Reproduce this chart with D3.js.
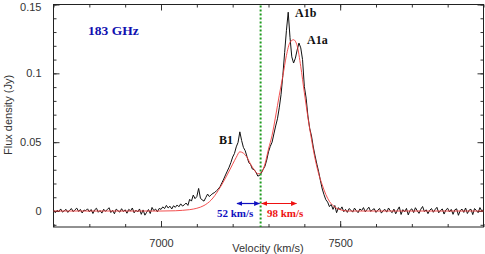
<!DOCTYPE html>
<html>
<head>
<meta charset="utf-8">
<script src="https://cdn.jsdelivr.net/npm/d3@7"></script>
<style>
  body { margin: 0; background: #fff; }
  svg { display: block; }
  .tick text { font-family: "Liberation Sans", Arial, sans-serif; font-size: 11px; fill: #333; }
  .ann { font-family: "Liberation Serif", "Times New Roman", serif; font-weight: bold; }
</style>
</head>
<body>
<svg id="myCanvas" width="485" height="254"></svg>
<script>
/*** 183 GHz spectrum ***/

// velocity grid of the observed spectrum (km/s), 5 km/s channels
let velStart = 6700;
let velStep = 5;

// observed flux density (Jy), one value per channel from 6700 to 7900
let fluxObs = [
  0.0008, -0.0012, 0.0005, -0.0004, 0.0015, -0.0008, 0.0002, 0.0012, -0.0010, 0.0006,
  0.0018, -0.0005, 0.0009, 0.0021, -0.0003, 0.0012, -0.0014, 0.0007, 0.0003, 0.0016,
  -0.0006, 0.0011, -0.0018, 0.0009, 0.0020, -0.0009, 0.0004, -0.0015, 0.0013, -0.0002,
  0.0010, 0.0024, -0.0011, 0.0005, -0.0020, 0.0014, 0.0002, -0.0008, 0.0017, -0.0004,
  0.0009, -0.0016, 0.0012, 0.0001, 0.0022, -0.0013, 0.0006, -0.0007, 0.0015, -0.0024,
  0.0008, -0.0030, -0.0009, 0.0011, -0.0018, 0.0026, 0.0003, 0.0014, -0.0006, 0.0019,
  0.0012, 0.0030, 0.0018, 0.0041, 0.0022, 0.0035, 0.0015, 0.0038, 0.0027, 0.0044,
  0.0031, 0.0052, 0.0036, 0.0045, 0.0058, 0.0041, 0.0085, 0.0072, 0.0116, 0.0090,
  0.0105, 0.0164, 0.0094, 0.0080, 0.0072, 0.0098, 0.0123, 0.0105, 0.0118, 0.0128,
  0.0135, 0.0148, 0.0160, 0.0178, 0.0205, 0.0232, 0.0262, 0.0290, 0.0318, 0.0352,
  0.0392, 0.0418, 0.0466, 0.0498, 0.0575, 0.0512, 0.0462, 0.0438, 0.0395, 0.0352,
  0.0338, 0.0305, 0.0300, 0.0282, 0.0254, 0.0258, 0.0276, 0.0302, 0.0325, 0.0370,
  0.0430, 0.0470, 0.0500, 0.0560, 0.0618, 0.0670, 0.0750, 0.0845, 0.0985, 0.1150,
  0.1310, 0.1444, 0.1260, 0.1120, 0.1075, 0.1110, 0.1170, 0.1220, 0.1185, 0.1100,
  0.0905, 0.0820, 0.0690, 0.0600, 0.0545, 0.0465, 0.0400, 0.0340, 0.0285, 0.0220,
  0.0160, 0.0118, 0.0082, 0.0065, 0.0032, 0.0048, 0.0012, 0.0040, -0.0012, 0.0025,
  0.0008, 0.0030, -0.0005, 0.0012, -0.0010, 0.0018, 0.0006, -0.0008, 0.0021, 0.0003,
  -0.0012, 0.0015, 0.0004, 0.0025, -0.0006, 0.0011, 0.0028, -0.0003, 0.0009, 0.0017,
  -0.0010, 0.0006, 0.0019, -0.0015, 0.0003, 0.0012, -0.0008, 0.0022, 0.0001, -0.0012,
  0.0014, -0.0020, 0.0008, 0.0030, -0.0025, 0.0010, -0.0006, 0.0019, -0.0028, 0.0005,
  0.0016, -0.0011, 0.0024, 0.0002, -0.0017, 0.0013, 0.0033, -0.0004, 0.0009, -0.0019,
  0.0006, 0.0018, -0.0009, 0.0011, 0.0027, -0.0013, 0.0004, 0.0015, -0.0022, 0.0008,
  0.0020, -0.0007, 0.0012, -0.0024, 0.0009, 0.0016, -0.0031, 0.0003, 0.0014, -0.0010,
  0.0022, -0.0018, 0.0007, 0.0013, -0.0026, 0.0018, 0.0004, -0.0012, 0.0025, 0.0001,
  0.0010
];

// gaussian fit (red)
let fitVel = [6700, 7000, 7040, 7060, 7080, 7100, 7120, 7140, 7160, 7180, 7200, 7210, 7220,
  7230, 7240, 7250, 7260, 7270, 7280, 7290, 7300, 7310, 7320, 7330, 7340, 7350, 7360, 7370,
  7380, 7390, 7400, 7410, 7420, 7430, 7440, 7450, 7460, 7470, 7480, 7490, 7500, 7520, 7900];
let fitFlux = [0, 0, 0.0002, 0.0005, 0.001, 0.002, 0.004, 0.008, 0.015, 0.024, 0.034, 0.039, 0.043,
  0.042, 0.039, 0.034, 0.030, 0.027, 0.028, 0.034, 0.045, 0.055, 0.069, 0.084, 0.098, 0.113, 0.1225, 0.1244,
  0.120, 0.105, 0.086, 0.068, 0.052, 0.038, 0.027, 0.019, 0.012, 0.007, 0.004, 0.002, 0.001, 0, 0];

let systemicVel = 7278;

let xTicks = [7000, 7500];
let yTicks = [0, 0.05, 0.1, 0.15];
let yTickLabels = ['0', '0.05', '0.1', '0.15'];

let canvas = d3.select('#myCanvas');

let xScale = d3.scaleLinear().domain([6700, 7900]).range([53.5, 483.5]);
let yScale = d3.scaleLinear().domain([-0.0116, 0.15]).range([227, 4.5]);

let obsData = fluxObs.map((f, i) => [velStart + i * velStep, f]);
let fitData = fitVel.map((v, i) => [v, fitFlux[i]]);

let x0 = xScale.range()[0], x1 = xScale.range()[1];
let y0 = yScale.range()[0], y1 = yScale.range()[1];

// arrow heads
let defs = canvas.append('defs');
[['blueHead', '#1010c0'], ['redHead', '#ee1111']].forEach((m) => {
  defs.append('marker')
    .attr('id', m[0])
    .attr('viewBox', '0 0 10 10')
    .attr('refX', 9).attr('refY', 5)
    .attr('markerWidth', 5).attr('markerHeight', 5)
    .attr('orient', 'auto-start-reverse')
    .append('path')
    .attr('d', 'M0,1 L10,5 L0,9 Z')
    .attr('fill', m[1]);
});

let minorX = d3.range(6700, 7901, 100);
let minorY = d3.range(-0.01, 0.1501, 0.01).map((d) => +d.toFixed(2));

// axes, ticks inward on all four sides
let drawAxes = () => {
  canvas.append('g')
    .attr('transform', 'translate(0,' + y0 + ')')
    .call(d3.axisBottom(xScale).tickValues(minorX).tickSize(-3).tickFormat(''));
  canvas.append('g')
    .attr('transform', 'translate(0,' + y0 + ')')
    .call(d3.axisBottom(xScale).tickValues(xTicks).tickSize(-6).tickPadding(12).tickFormat(d3.format('d')));
  canvas.append('g')
    .attr('transform', 'translate(0,' + y1 + ')')
    .call(d3.axisTop(xScale).tickValues(minorX).tickSize(-3).tickFormat(''));
  canvas.append('g')
    .attr('transform', 'translate(0,' + y1 + ')')
    .call(d3.axisTop(xScale).tickValues(xTicks).tickSize(-6).tickFormat(''));

  canvas.append('g')
    .attr('transform', 'translate(' + x0 + ',0)')
    .call(d3.axisLeft(yScale).tickValues(minorY).tickSize(-3).tickFormat(''));
  let yAxis = canvas.append('g')
    .attr('transform', 'translate(' + x0 + ',0)')
    .call(d3.axisLeft(yScale).tickValues(yTicks).tickSize(-6).tickPadding(12)
      .tickFormat((d, i) => yTickLabels[i]));
  // keep the top label inside the page
  yAxis.selectAll('.tick text').filter((d) => d === 0.15).attr('dy', '0.5em');
  canvas.append('g')
    .attr('transform', 'translate(' + x1 + ',0)')
    .call(d3.axisRight(yScale).tickValues(minorY).tickSize(-3).tickFormat(''));
  canvas.append('g')
    .attr('transform', 'translate(' + x1 + ',0)')
    .call(d3.axisRight(yScale).tickValues(yTicks).tickSize(-6).tickFormat(''));

  canvas.selectAll('.domain').remove();
  canvas.selectAll('.tick line').attr('stroke', '#333');

  canvas.append('rect')
    .attr('x', x0).attr('y', y1)
    .attr('width', x1 - x0).attr('height', y0 - y1)
    .attr('fill', 'none')
    .attr('stroke', '#222')
    .attr('stroke-width', 1);

  canvas.append('text')
    .attr('x', 268).attr('y', 252)
    .attr('text-anchor', 'middle')
    .attr('font-family', '"Liberation Sans", Arial, sans-serif')
    .attr('font-size', 11)
    .attr('fill', '#333')
    .text('Velocity (km/s)');

  canvas.append('text')
    .attr('transform', 'translate(12,115) rotate(-90)')
    .attr('text-anchor', 'middle')
    .attr('font-family', '"Liberation Sans", Arial, sans-serif')
    .attr('font-size', 11)
    .attr('fill', '#333')
    .text('Flux density (Jy)');
};

let drawSpectrum = () => {
  let line = d3.line()
    .x((d) => xScale(d[0]))
    .y((d) => yScale(d[1]));

  canvas.append('path')
    .datum(obsData)
    .attr('d', line)
    .attr('fill', 'none')
    .attr('stroke', '#111')
    .attr('stroke-width', 1);

  canvas.append('path')
    .datum(fitData)
    .attr('d', line.curve(d3.curveMonotoneX))
    .attr('fill', 'none')
    .attr('stroke', '#f03c3c')
    .attr('stroke-width', 0.9);

  canvas.append('line')
    .attr('x1', xScale(systemicVel)).attr('x2', xScale(systemicVel))
    .attr('y1', y1 + 1).attr('y2', y0)
    .attr('stroke', '#1f9a1f')
    .attr('stroke-width', 2)
    .attr('stroke-dasharray', '2,2');
};

let drawLabels = () => {
  let notes = [
    {text: '183 GHz', x: 88, y: 35, size: 13.5, color: '#1010b0'},
    {text: 'A1b', x: 295, y: 17, size: 12, color: '#111'},
    {text: 'A1a', x: 307, y: 44, size: 12, color: '#111'},
    {text: 'B1', x: 219, y: 144, size: 12, color: '#111'},
    {text: '52 km/s', x: 217, y: 217, size: 11, color: '#1010c0'},
    {text: '98 km/s', x: 267, y: 217, size: 11, color: '#ee1111'}
  ];
  canvas.selectAll('.ann')
    .data(notes)
    .enter()
    .append('text')
    .attr('class', 'ann')
    .attr('x', (d) => d.x)
    .attr('y', (d) => d.y)
    .attr('font-size', (d) => d.size)
    .attr('fill', (d) => d.color)
    .text((d) => d.text);

  // width arrows either side of the systemic line
  let arrows = [[7212, systemicVel - 3, '#1010c0', 'blueHead'], [systemicVel + 3, 7378, '#ee1111', 'redHead']];
  arrows.forEach((a) => {
    canvas.append('line')
      .attr('x1', xScale(a[0])).attr('x2', xScale(a[1]))
      .attr('y1', 203.5).attr('y2', 203.5)
      .attr('stroke', a[2])
      .attr('stroke-width', 1.2)
      .attr('marker-start', 'url(#' + a[3] + ')')
      .attr('marker-end', 'url(#' + a[3] + ')');
  });
};

drawAxes();
drawSpectrum();
drawLabels();
</script>
</body>
</html>
